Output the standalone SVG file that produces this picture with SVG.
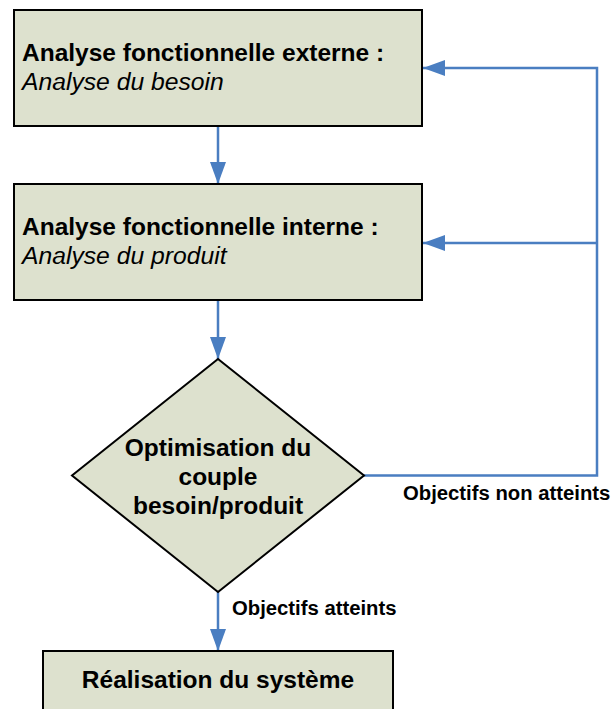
<svg xmlns="http://www.w3.org/2000/svg" width="612" height="709" viewBox="0 0 612 709">
  <style>
    .node { fill: #dde1ce; stroke: #000000; stroke-width: 2; }
    .title { font-family: "Liberation Sans", Arial, sans-serif; font-size: 24.5px; font-weight: bold; fill: #000000; }
    .sub { font-family: "Liberation Sans", Arial, sans-serif; font-size: 24.7px; font-style: italic; fill: #000000; }
    .label { font-family: "Liberation Sans", Arial, sans-serif; font-size: 20.3px; font-weight: bold; fill: #000000; }
    .link { fill: none; stroke: #4a7ec1; stroke-width: 2.5; }
  </style>
  <defs>
    <marker id="arrow" viewBox="0 0 22 16" refX="22" refY="8" markerWidth="22" markerHeight="16" markerUnits="userSpaceOnUse" orient="auto">
      <path d="M0,0 L22,8 L0,16 Z" fill="#4a7ec1"/>
    </marker>
  </defs>

  <rect width="612" height="709" fill="#ffffff"/>

  <g id="connectors">
    <line class="link" x1="218" y1="127" x2="218" y2="184" marker-end="url(#arrow)"/>
    <line class="link" x1="218" y1="301" x2="218" y2="359" marker-end="url(#arrow)"/>
    <line class="link" x1="218" y1="592" x2="218" y2="651" marker-end="url(#arrow)"/>
    <polyline class="link" points="364,475.5 597,475.5 597,68 423,68" marker-end="url(#arrow)"/>
    <line class="link" x1="597" y1="243" x2="423" y2="243" marker-end="url(#arrow)"/>
    <text class="label" x="403" y="500">Objectifs non atteints</text>
    <text class="label" x="232" y="615">Objectifs atteints</text>
  </g>

  <g id="afe">
    <rect class="node" x="14" y="10" width="408" height="116"/>
    <text class="title" x="22" y="61">Analyse fonctionnelle externe :</text>
    <text class="sub" x="22" y="90">Analyse du besoin</text>
  </g>

  <g id="afi">
    <rect class="node" x="14" y="184" width="408" height="116"/>
    <text class="title" x="22" y="235">Analyse fonctionnelle interne :</text>
    <text class="sub" x="22" y="264">Analyse du produit</text>
  </g>

  <g id="optimisation">
    <polygon class="node" points="218,359 364,475.5 218,592 72,475.5"/>
    <text class="title" text-anchor="middle" x="218" y="456">Optimisation du</text>
    <text class="title" text-anchor="middle" x="218" y="485">couple</text>
    <text class="title" text-anchor="middle" x="218" y="514">besoin/produit</text>
  </g>

  <g id="realisation">
    <rect class="node" x="43" y="651" width="350" height="70"/>
    <text class="title" text-anchor="middle" x="218" y="688">Réalisation du système</text>
  </g>
</svg>
